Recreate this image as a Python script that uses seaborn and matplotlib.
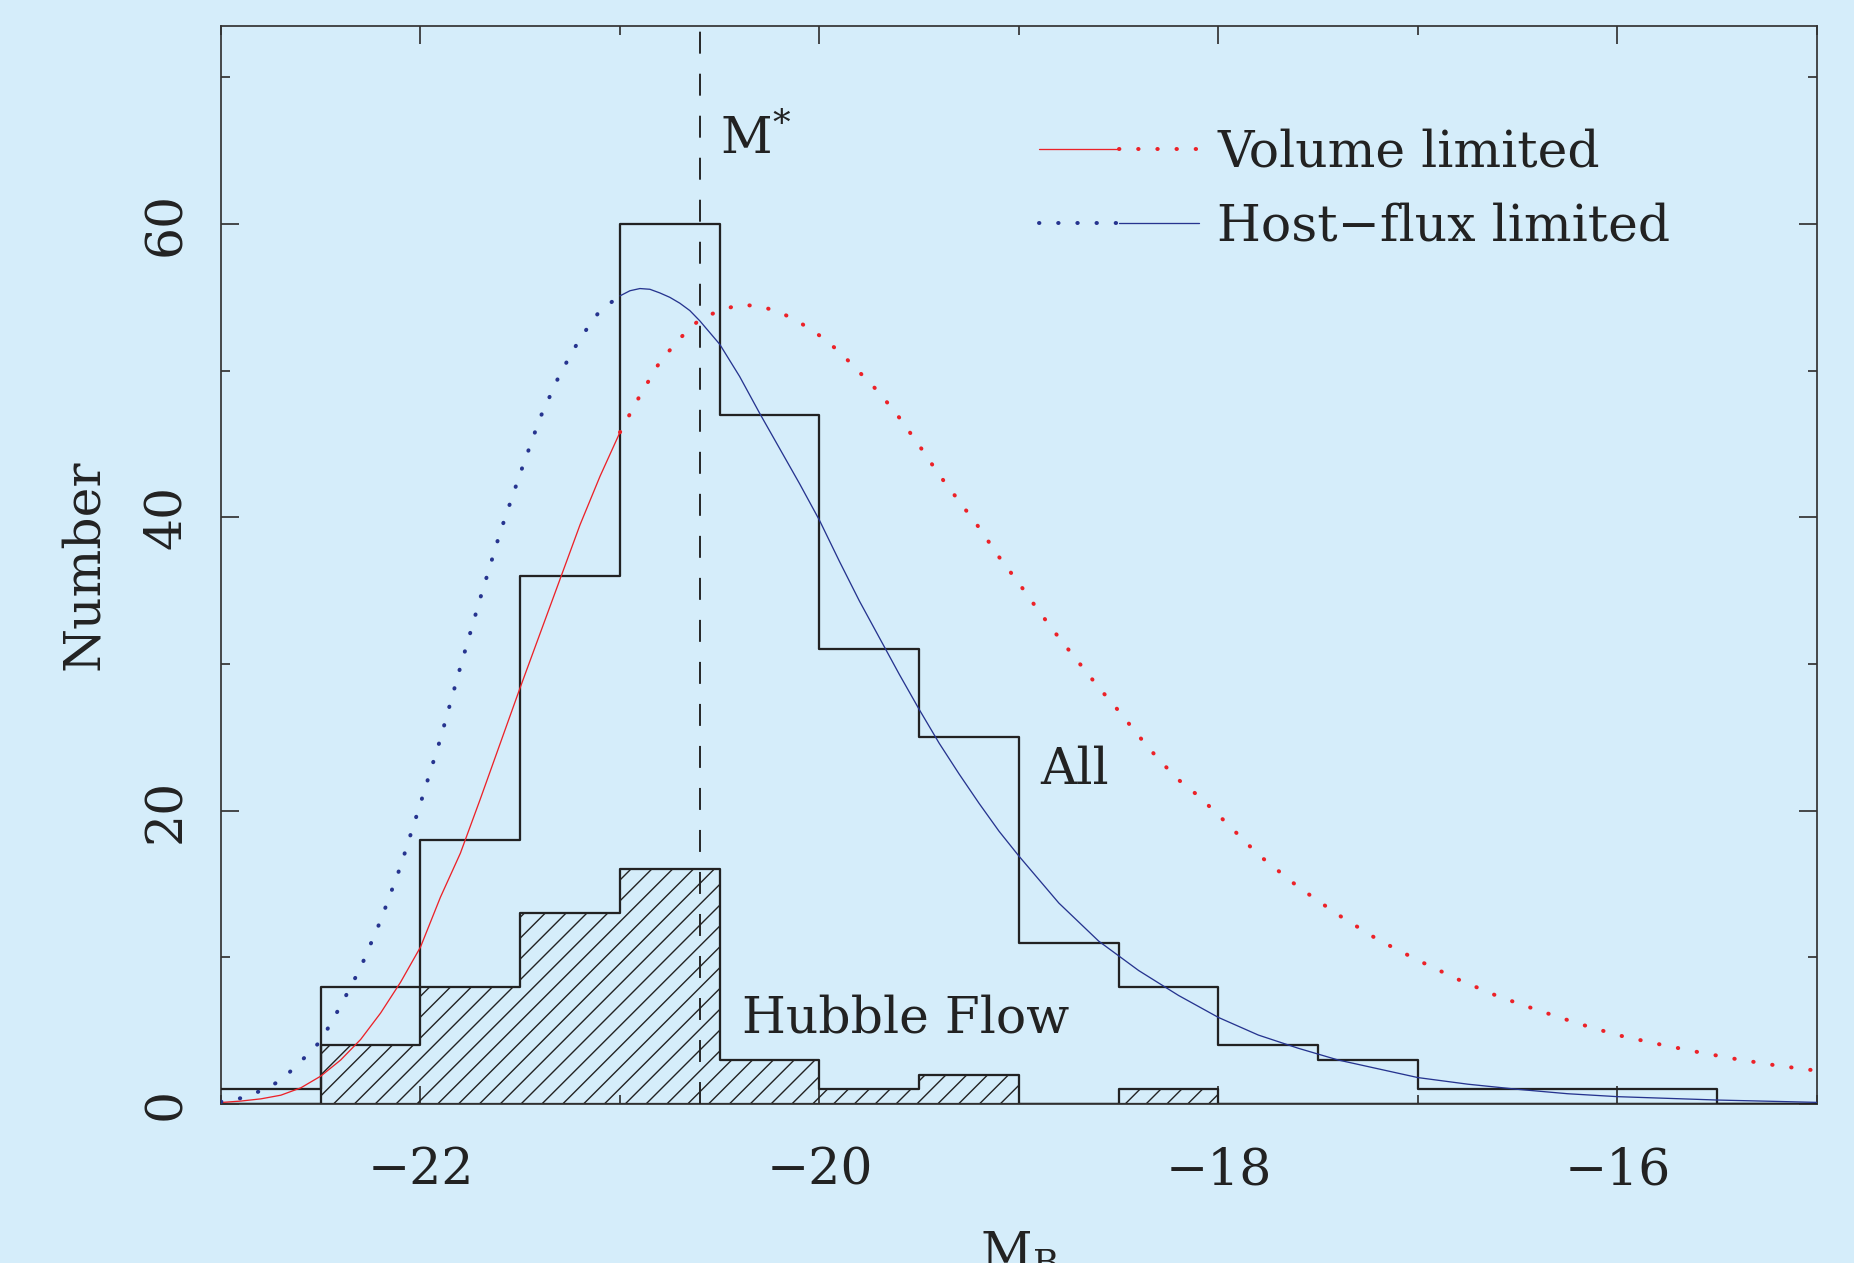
import numpy as np
import pandas as pd
import matplotlib
matplotlib.use("Agg")
import matplotlib.pyplot as plt
import seaborn as sns
from matplotlib.lines import Line2D
from matplotlib.legend_handler import HandlerTuple
from matplotlib.ticker import MultipleLocator

# ---------------- data ----------------
bin_edges = [-23.0, -22.5, -22.0, -21.5, -21.0, -20.5, -20.0, -19.5, -19.0,
             -18.5, -18.0, -17.5, -17.0, -16.5, -16.0, -15.5, -15.0]
all_counts = [1, 8, 18, 36, 60, 47, 31, 25, 11, 8, 4, 3, 1, 1, 1, 0]
hubble_counts = [0, 4, 8, 13, 16, 3, 1, 2, 0, 1, 0, 0, 0, 0, 0, 0]

host_M = [-23.0, -22.9, -22.8, -22.7, -22.6, -22.5, -22.4, -22.3, -22.2, -22.1,
          -22.0, -21.9, -21.8, -21.7, -21.6, -21.5, -21.4, -21.3, -21.2, -21.1,
          -21.0, -20.95, -20.9, -20.85, -20.8, -20.75, -20.7, -20.65, -20.6, -20.5,
          -20.4, -20.3, -20.2, -20.1,
          -20.0, -19.9, -19.8, -19.7, -19.6, -19.5, -19.4, -19.3, -19.2, -19.1,
          -19.0, -18.8, -18.6, -18.4, -18.2, -18.0, -17.8, -17.6, -17.4, -17.2,
          -17.0, -16.75, -16.5, -16.25, -16.0, -15.5, -15.0]
host_N = [0.15, 0.4, 0.9, 1.6, 2.9, 4.3, 6.7, 9.3, 12.5, 16.2,
          20.5, 24.9, 29.8, 34.5, 39.0, 43.0, 46.8, 49.8, 52.2, 54.1,
          55.1, 55.45, 55.6, 55.55, 55.3, 55.0, 54.6, 54.1, 53.4, 51.8,
          49.6, 47.1, 44.7, 42.3,
          39.8, 37.0, 34.3, 31.8, 29.3, 26.9, 24.6, 22.5, 20.5, 18.6,
          16.9, 13.7, 11.1, 9.1, 7.4, 5.9, 4.7, 3.8, 3.0, 2.4,
          1.8, 1.35, 1.0, 0.7, 0.5, 0.27, 0.11]

vol_M = [-23.0, -22.9, -22.8, -22.7, -22.6, -22.5, -22.4, -22.3, -22.2, -22.1,
         -22.0, -21.9, -21.8, -21.7, -21.6, -21.5, -21.4, -21.3, -21.2, -21.1,
         -21.0, -20.9, -20.8, -20.7, -20.6, -20.5, -20.4, -20.3, -20.2, -20.1,
         -20.0, -19.9, -19.8, -19.7, -19.6, -19.5, -19.4, -19.3, -19.2, -19.1,
         -19.0, -18.9, -18.8, -18.7, -18.6, -18.5, -18.4, -18.3, -18.2, -18.1,
         -18.0, -17.8, -17.6, -17.4, -17.2, -17.0, -16.8, -16.6, -16.4, -16.2,
         -16.0, -15.8, -15.6, -15.4, -15.2, -15.0]
vol_N = [0.1, 0.2, 0.35, 0.6, 1.1, 1.9, 3.0, 4.4, 6.2, 8.3,
         10.7, 14.1, 17.1, 20.8, 24.6, 28.4, 32.1, 35.8, 39.5, 42.8,
         45.8, 48.3, 50.6, 52.2, 53.5, 54.1, 54.5, 54.4, 54.0, 53.3,
         52.4, 51.3, 49.9, 48.5, 46.8, 44.9, 42.9, 41.1, 39.3, 37.3,
         35.5, 33.6, 31.8, 30.1, 28.4, 26.8, 25.1, 23.5, 22.1, 21.0,
         19.7, 17.0, 14.8, 12.9, 11.2, 9.8, 8.5, 7.35, 6.4, 5.5,
         4.7, 4.1, 3.55, 3.05, 2.62, 2.27]

split_M = -21.0      # where curves change between solid and dotted
M_star = -20.6

x_ticks_major = 2
x_ticks_minor = 1
y_ticks_major = 20
y_ticks_minor = 10

# ---------------- style ----------------
BG = "#D5EDFA"
INK = "#222222"
RED = "#EC2228"
BLUE = "#26348F"
FS = 29

sns.set_style("ticks")
plt.rcParams["font.family"] = ["DejaVu Serif"]
plt.rcParams["mathtext.fontset"] = "dejavuserif"
plt.rcParams["hatch.linewidth"] = 0.8
plt.rcParams["hatch.color"] = INK
plt.rcParams["axes.unicode_minus"] = True

DPI = 125
fig = plt.figure(figsize=(1854 / DPI, 1263 / DPI), dpi=DPI, facecolor=BG)
ax = fig.add_axes([0.1192, 0.1259, 0.8608, 0.8535])
ax.set_facecolor(BG)

centers = [(a + b) / 2 for a, b in zip(bin_edges[:-1], bin_edges[1:])]

# hatched Hubble-flow histogram
sns.histplot(x=centers, weights=hubble_counts, bins=bin_edges, element="step",
             fill=True, color=INK, facecolor="none", edgecolor=INK, hatch="//",
             linewidth=1.3, ax=ax, zorder=2)
# "All" histogram outline
sns.histplot(x=centers, weights=all_counts, bins=bin_edges, element="step",
             fill=False, color=INK, linewidth=1.3, ax=ax, zorder=3)

host = pd.DataFrame({"M": host_M, "N": host_N})
vol = pd.DataFrame({"M": vol_M, "N": vol_N})

DOT = (0, (0.1, 4.7))
DOT_LW = 2.3
SOLID_LW = 0.75

sns.lineplot(data=vol[vol.M <= split_M], x="M", y="N", color=RED, lw=SOLID_LW,
             errorbar=None, ax=ax, zorder=4)
sns.lineplot(data=vol[vol.M >= split_M], x="M", y="N", color=RED, lw=DOT_LW,
             linestyle=DOT, dash_capstyle="round", errorbar=None, ax=ax, zorder=4)
sns.lineplot(data=host[host.M <= split_M], x="M", y="N", color=BLUE, lw=DOT_LW,
             linestyle=DOT, dash_capstyle="round", errorbar=None, ax=ax, zorder=4)
sns.lineplot(data=host[host.M >= split_M], x="M", y="N", color=BLUE, lw=SOLID_LW,
             errorbar=None, ax=ax, zorder=4)

# M* line
ax.axvline(M_star, color=INK, lw=1.1, dashes=(11.5, 10.5), zorder=3)

# annotations
ax.text(-20.50, 64.8, r"M$^{*}$", fontsize=FS, color=INK, ha="left", va="baseline")
ax.text(-18.895, 21.8, "All", fontsize=FS, color=INK, ha="left", va="baseline")
ax.text(-20.39, 4.9, "Hubble Flow", fontsize=FS, color=INK, ha="left", va="baseline")

# legend
vol_handle = (Line2D([], [], color=RED, lw=SOLID_LW),
              Line2D([], [], color=RED, lw=DOT_LW, linestyle=DOT, dash_capstyle="round"))
host_handle = (Line2D([], [], color=BLUE, lw=DOT_LW, linestyle=DOT, dash_capstyle="round"),
               Line2D([], [], color=BLUE, lw=SOLID_LW))
ax.legend([vol_handle, host_handle], ["Volume limited", "Host\u2212flux limited"],
          handler_map={tuple: HandlerTuple(ndivide=2, pad=0.0)},
          loc="upper left", bbox_to_anchor=(0.5125, 0.905), frameon=False,
          borderpad=0, borderaxespad=0, handlelength=3.17, handletextpad=0.37,
          labelspacing=0.48, fontsize=FS, labelcolor=INK)

# axes
ax.set_xlim(bin_edges[0], bin_edges[-1])
ax.set_ylim(0, 73.5)
ax.xaxis.set_major_locator(MultipleLocator(x_ticks_major))
ax.xaxis.set_minor_locator(MultipleLocator(x_ticks_minor))
ax.yaxis.set_major_locator(MultipleLocator(y_ticks_major))
ax.yaxis.set_minor_locator(MultipleLocator(y_ticks_minor))
ax.tick_params(which="both", direction="in", top=True, right=True,
               width=1.0, color="#333333", labelsize=FS, labelcolor=INK)
ax.tick_params(which="major", length=10.4)
ax.tick_params(which="minor", length=5.2)
ax.tick_params(axis="x", pad=24)
ax.tick_params(axis="y", pad=17, labelrotation=90)
for lbl in ax.get_yticklabels():
    lbl.set_va("center")
for sp in ax.spines.values():
    sp.set_linewidth(1.0)
    sp.set_color("#333333")
    sp.set_visible(True)

ax.set_ylabel("Number", fontsize=FS, color=INK)
ax.yaxis.set_label_coords(-0.0702, 0.5)
ax.set_xlabel(r"M$_{\rm B}$", fontsize=FS, color=INK)
ax.xaxis.set_label_coords(0.5, -0.1169)

fig.savefig("out.png", dpi=DPI, facecolor=BG)
